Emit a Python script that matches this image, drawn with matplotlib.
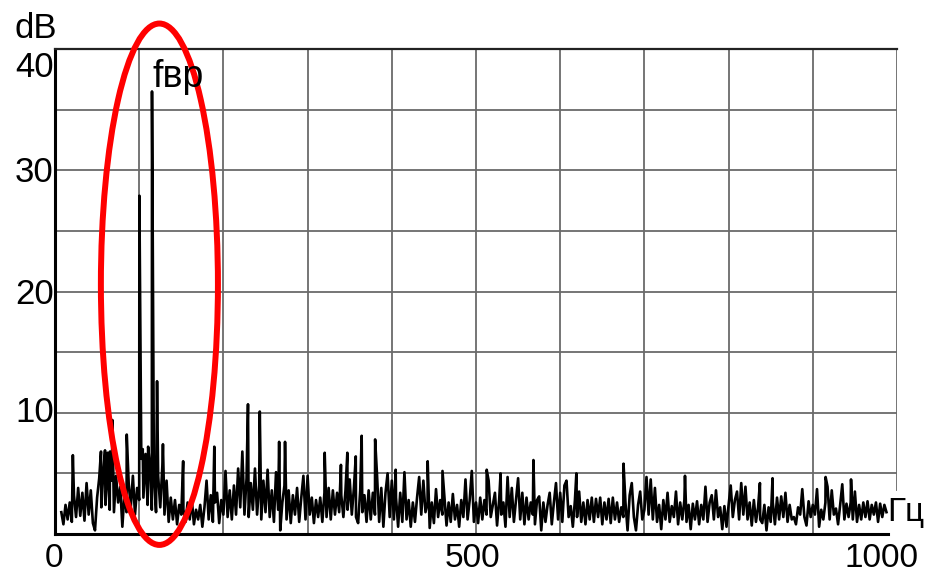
import numpy as np
import matplotlib
matplotlib.use("Agg")
import matplotlib.pyplot as plt
from matplotlib.patches import Ellipse

plt.rcParams['font.family'] = ['Liberation Sans', 'DejaVu Sans']

# noise floor of the spectrum, dB, one value every 2.5 Hz starting at 7.5 Hz
f_start = 7.5
f_step = 2.5
noise_db = [
    1.8, 0.8, 2.4, 1.2, 2.6,
    1.0, 3.2, 1.4, 3.8, 1.5, 3.4, 1.1, 4.2,
    1.6, 3.6, 0.9, 0.3, 3.0, 4.6, 2.2, 5.2,
    2.4, 5.6, 2.0, 4.4, 1.8, 4.8, 2.6, 3.9,
    0.6, 3.4, 1.8, 4.2, 2.2, 4.8, 1.6, 3.8,
    2.8, 6.2, 3.0, 6.6, 2.4, 5.8, 2.0, 4.6,
    1.8, 4.8, 2.2, 5.6, 1.6, 4.4, 1.0, 3.0,
    1.2, 2.8, 0.8, 2.4, 1.6, 2.0, 1.0, 2.6,
    1.2, 2.8, 0.8, 2.0, 1.2, 2.4, 0.6, 2.2,
    4.4, 1.2, 3.2, 1.0, 2.6, 3.4, 0.9, 2.8,
    1.6, 5.2, 1.4, 3.6, 1.2, 4.0, 1.6, 5.4,
    2.2, 6.8, 1.6, 4.6, 1.4, 4.2, 2.0, 5.4,
    1.6, 4.0, 1.2, 4.4, 1.8, 5.3, 1.4, 3.6,
    1.0, 5.1, 2.0, 0.3, 2.6, 4.0, 1.2, 3.6,
    0.9, 3.2, 1.6, 3.8, 1.0, 3.0, 4.8, 1.2,
    4.8, 1.6, 3.0, 0.9, 2.8, 1.4, 3.0, 1.0,
    3.4, 1.4, 3.8, 1.2, 3.6, 1.6, 3.4, 1.8,
    3.2, 1.4, 3.6, 2.0, 4.5, 1.6, 3.8, 1.4,
    0.9, 3.6, 1.8, 3.2, 1.0, 3.6, 1.2, 3.4,
    1.6, 4.8, 1.0, 3.8, 0.6, 3.4, 5.0, 1.4,
    4.4, 1.2, 3.0, 0.6, 3.4, 1.0, 5.1, 1.2,
    2.8, 0.6, 2.6, 1.0, 3.0, 4.7, 1.6, 4.4,
    1.8, 2.6, 0.5, 2.6, 0.9, 3.7, 1.4, 2.8,
    1.6, 3.0, 0.7, 2.6, 1.0, 3.3, 1.2, 2.4,
    0.6, 2.8, 1.4, 4.5, 1.2, 2.8, 5.2, 1.0,
    2.6, 0.9, 3.0, 1.2, 2.8, 1.6, 4.4, 1.4,
    2.4, 3.4, 0.7, 2.8, 1.6, 2.6, 0.6, 4.7,
    1.4, 3.8, 1.0, 2.8, 4.6, 1.2, 3.4, 0.8,
    3.0, 1.2, 2.6, 1.6, 0.8, 2.8, 3.1, 0.3,
    2.6, 1.0, 2.4, 3.4, 0.8, 2.6, 4.2, 1.2,
    3.4, 1.0, 4.0, 4.4, 1.4, 2.3, 0.6, 2.8,
    1.4, 3.5, 1.0, 2.6, 0.8, 2.8, 1.2, 3.0,
    1.0, 2.9, 1.4, 3.0, 0.8, 2.6, 1.2, 2.9,
    0.9, 3.0, 1.2, 2.6,
    1.0, 2.2, 1.4, 2.6, 0.3, 3.2, 4.2, 1.4,
    0.3, 2.4, 3.5, 1.2, 2.0, 4.7, 1.6, 4.5,
    1.2, 3.8, 1.0, 2.4, 0.4, 2.8, 1.2, 3.4,
    1.0, 2.3, 1.4, 3.5, 0.8, 2.6, 1.2, 2.8,
    1.0, 2.4, 0.4, 2.5, 1.2, 2.7, 0.8, 2.4,
    1.2, 3.9, 1.0, 2.6, 3.2, 1.2, 3.6, 1.4,
    2.2, 0.4, 2.3, 0.6, 2.4, 4.0, 1.4, 2.8,
    3.5, 1.2, 4.2, 1.6, 3.9, 1.2, 2.6, 0.7,
    2.8,
    1.0, 2.2, 1.2, 0.9, 2.4, 0.3, 2.2, 1.0,
    2.6, 0.8, 3.0, 1.2, 3.1, 1.4, 3.4, 1.0,
    2.4, 1.2, 1.4, 0.8, 2.2, 1.6, 3.7, 1.4,
    0.7, 2.7, 1.4, 2.4, 1.6, 3.7, 0.6, 2.0,
    1.2, 2.6, 3.9, 1.2, 3.6, 1.6, 2.1, 0.8,
    2.4, 4.1, 1.2, 2.5, 1.4, 2.6, 1.2, 3.5,
    1.0, 2.4, 1.2, 2.6, 1.4, 2.7, 1.2, 2.4,
    1.6, 2.6, 1.0, 2.5, 1.4, 2.4, 1.8,
]

# single narrow spectral lines, Hz and dB
spike_hz = [21.2, 54.6, 59.4, 62.6, 65.3, 68.2, 85.2, 100.2, 104.2, 110.6,
            115.2, 121.2, 128.2, 152.2, 189.2, 229.2, 243.2, 266.2, 273.2,
            320.3, 339.6, 347.2, 357.2, 364.2, 380.2, 404.6, 442.6, 460.2,
            512.7, 529.2, 568.2, 619.2, 675.2, 748.2, 837.2, 852.2, 915.2,
            945.4]
spike_db = [6.5, 6.8, 6.9, 6.7, 6.8, 9.4, 8.2, 27.9, 7.0, 7.2,
            36.5, 12.6, 7.4, 6.0, 7.2, 10.7, 10.1, 7.6, 7.6,
            6.7, 5.7, 6.7, 6.4, 8.1, 7.8, 5.3, 6.0, 5.2,
            5.3, 5.0, 6.1, 5.0, 5.8, 4.8, 4.2, 4.6, 4.7,
            4.5]

freq = f_start + f_step * np.arange(len(noise_db))
all_f = np.concatenate([freq, spike_hz])
all_db = np.concatenate([noise_db, spike_db])
order = np.argsort(all_f)
all_f = all_f[order]
all_db = all_db[order]

W, H = 930, 576
fig = plt.figure(figsize=(W / 100, H / 100), dpi=100)
ax = fig.add_axes([55 / W, 1 - 534 / H, (897 - 55) / W, (534 - 49) / H])
ax.set_xlim(0, 1000)
ax.set_ylim(0, 40)

grid_col = '#6a6a6a'
for v in range(100, 1000, 100):
    ax.axvline(v, color=grid_col, lw=1.3, zorder=1)
for h in range(5, 40, 5):
    ax.axhline(h, color=grid_col, lw=1.3, zorder=1)
ax.axvline(1000, ymin=3.6 / 40, ymax=1, color=grid_col, lw=1.3, zorder=1)

ax.plot(all_f, all_db, color='black', lw=1.9, zorder=3)

ax.spines['right'].set_visible(False)
ax.spines['top'].set_color('#222222')
ax.spines['top'].set_linewidth(1.6)
ax.spines['left'].set_linewidth(2.2)
ax.spines['bottom'].set_linewidth(2.2)
ax.spines['bottom'].set_bounds(0, 989)
ax.set_xticks([])
ax.set_yticks([])

# red ellipse around the rotor frequency line
ell = Ellipse((124, 20.6), 139, 43.0, fill=False, edgecolor='#ff0000',
              lw=4.3, clip_on=False, zorder=5)
ax.add_patch(ell)

ax.text(116, 36.9, 'fвр', fontsize=27, ha='left', va='baseline', zorder=6)


def px(x, y):
    return x / W, 1 - y / H


fs = 25
fig.text(*px(15, 38), 'dB', fontsize=25, ha='left', va='baseline')
fig.text(*px(15, 77), '40', fontsize=fs, ha='left', va='baseline')
fig.text(*px(15, 182), '30', fontsize=fs, ha='left', va='baseline')
fig.text(*px(15, 304), '20', fontsize=fs, ha='left', va='baseline')
fig.text(*px(15, 422), '10', fontsize=fs, ha='left', va='baseline')
fig.text(*px(54, 567), '0', fontsize=24, ha='center', va='baseline')
fig.text(*px(472, 567), '500', fontsize=24, ha='center', va='baseline')
fig.text(*px(881, 567), '1000', fontsize=24, ha='center', va='baseline')
fig.text(*px(887, 521), 'Гц', fontsize=24, ha='left', va='baseline')

fig.savefig('out.png', dpi=100)
